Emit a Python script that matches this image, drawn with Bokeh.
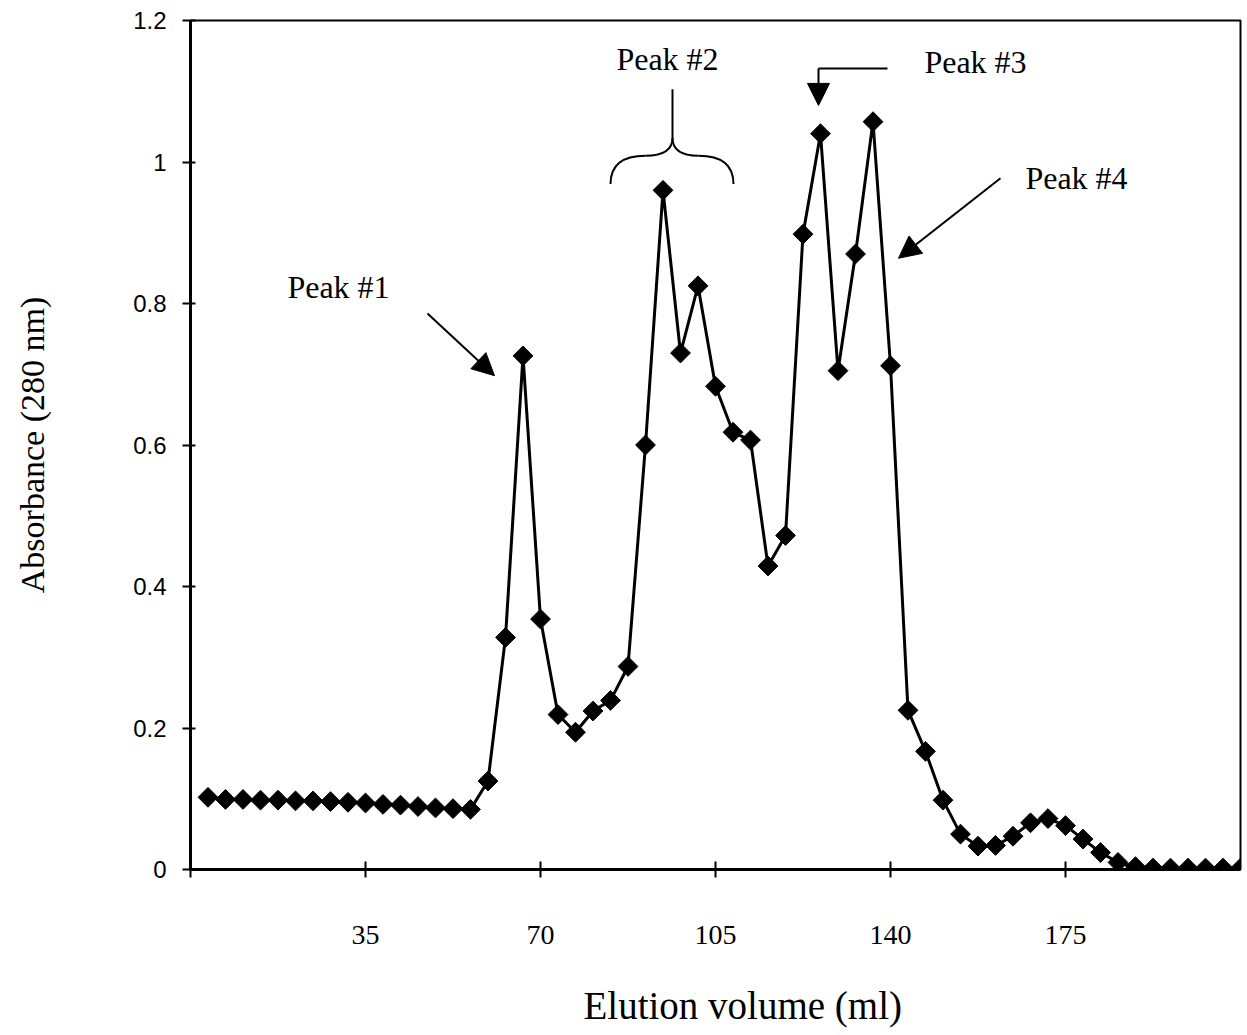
import numpy as np
from bokeh.plotting import figure
from bokeh.models import Range1d, FixedTicker, Arrow, NormalHead, Label, Title
from bokeh.embed import file_html
from bokeh.resources import INLINE

# ---------------- data ----------------
volume_ml = [3.5, 7, 10.5, 14, 17.5, 21, 24.5, 28, 31.5, 35,
             38.5, 42, 45.5, 49, 52.5, 56, 59.5, 63, 66.5, 70,
             73.5, 77, 80.5, 84, 87.5, 91, 94.5, 98, 101.5, 105,
             108.5, 112, 115.5, 119, 122.5, 126, 129.5, 133, 136.5, 140,
             143.5, 147, 150.5, 154, 157.5, 161, 164.5, 168, 171.5, 175,
             178.5, 182, 185.5, 189, 192.5, 196, 199.5, 203, 206.5, 210]
absorbance = [0.102, 0.099, 0.099, 0.098, 0.098, 0.097, 0.097, 0.096, 0.095, 0.094,
              0.092, 0.091, 0.089, 0.087, 0.086, 0.085, 0.125, 0.328, 0.726, 0.354,
              0.219, 0.194, 0.224, 0.239, 0.287, 0.600, 0.960, 0.730, 0.825, 0.683,
              0.618, 0.607, 0.429, 0.472, 0.898, 1.040, 0.705, 0.870, 1.057, 0.712,
              0.225, 0.167, 0.098, 0.050, 0.033, 0.034, 0.047, 0.066, 0.072, 0.062,
              0.043, 0.024, 0.010, 0.004, 0.002, 0.002, 0.002, 0.002, 0.002, 0.002]

x_ticks = [0, 35, 70, 105, 140, 175]
x_tick_labels = ["", "35", "70", "105", "140", "175"]
y_ticks = [0, 0.2, 0.4, 0.6, 0.8, 1.0, 1.2]
y_tick_labels = ["0", "0.2", "0.4", "0.6", "0.8", "1", "1.2"]
peak_labels = ["Peak #1", "Peak #2", "Peak #3", "Peak #4"]
x_title = "Elution volume (ml)"
y_title = "Absorbance (280 nm)"

SERIF = "Liberation Serif"
SANS = "Liberation Sans"

p = figure(frame_width=1050, frame_height=849,
           min_border_left=190, min_border_right=4,
           min_border_top=20, min_border_bottom=164,
           x_range=Range1d(0, 210), y_range=Range1d(0, 1.2),
           output_backend="svg", toolbar_location=None)

p.background_fill_color = "white"
p.border_fill_color = "white"
p.outline_line_color = "black"
p.outline_line_width = 2
p.xgrid.visible = False
p.ygrid.visible = False

# x axis
xa = p.xaxis[0]
xa.ticker = FixedTicker(ticks=x_ticks)
xa.major_label_overrides = {t: l for t, l in zip(x_ticks, x_tick_labels)}
xa.minor_tick_line_color = None
xa.axis_line_width = 3
xa.major_tick_line_width = 2
xa.major_tick_in = 8
xa.major_tick_out = 8
xa.major_label_standoff = 48
xa.major_label_text_font = SERIF
xa.major_label_text_font_size = "28px"
xa.major_label_text_color = "black"

# y axis
ya = p.yaxis[0]
ya.ticker = FixedTicker(ticks=y_ticks)
ya.major_label_overrides = {t: l for t, l in zip(y_ticks, y_tick_labels)}
ya.minor_tick_line_color = None
ya.axis_line_width = 3
ya.major_tick_line_width = 2
ya.major_tick_in = 5
ya.major_tick_out = 8
ya.major_label_standoff = 16
ya.major_label_text_font = SANS
ya.major_label_text_font_size = "24px"
ya.major_label_text_color = "black"
ya.axis_label = y_title
ya.axis_label_text_font = SERIF
ya.axis_label_text_font_style = "normal"
ya.axis_label_text_font_size = "34px"
ya.axis_label_standoff = 79
ya.axis_label_text_color = "black"

# data
p.line(volume_ml, absorbance, line_color="black", line_width=3)
p.scatter(volume_ml, absorbance, marker="square", angle=np.pi / 4, size=14,
          fill_color="black", line_color="black")

# annotations
def lab(x, y, t):
    p.add_layout(Label(x=x, y=y, text=t, text_font=SERIF, text_font_size="32px",
                       text_align="center", text_baseline="middle", text_color="black"))

lab(29.6, 0.823, peak_labels[0])
lab(95.4, 1.146, peak_labels[1])
lab(157.0, 1.141, peak_labels[2])
lab(177.2, 0.977, peak_labels[3])

def arrow(x0, y0, x1, y1):
    p.add_layout(Arrow(end=NormalHead(size=22, fill_color="black", line_color="black"),
                       x_start=x0, y_start=y0, x_end=x1, y_end=y1,
                       line_color="black", line_width=2))

arrow(47.4, 0.786, 60.8, 0.698)           # Peak 1
p.line([139.4, 125.6], [1.132, 1.132], line_color="black", line_width=2)
arrow(125.6, 1.132, 125.6, 1.080)         # Peak 3
arrow(162.0, 0.977, 141.6, 0.864)         # Peak 4

# brace for Peak 2
p.bezier(x0=[84.0, 91.0, 108.6, 101.6], y0=[0.969, 1.009, 0.969, 1.009],
         x1=[91.0, 96.4, 101.6, 96.4], y1=[1.009, 1.034, 1.009, 1.034],
         cx0=[84.0, 94.4, 108.6, 98.4], cy0=[1.000, 1.009, 1.000, 1.009],
         cx1=[87.0, 96.4, 105.6, 96.4], cy1=[1.009, 1.016, 1.009, 1.016],
         line_color="black", line_width=2)
p.line([96.4, 96.4], [1.034, 1.103], line_color="black", line_width=2)

# x axis title under the axis
p.add_layout(Title(text=x_title, align="left", offset=393, standoff=70,
                   text_font=SERIF, text_font_size="39px",
                   text_font_style="normal", text_color="black"), "below")

open("out.html", "w").write(file_html(p, INLINE))
